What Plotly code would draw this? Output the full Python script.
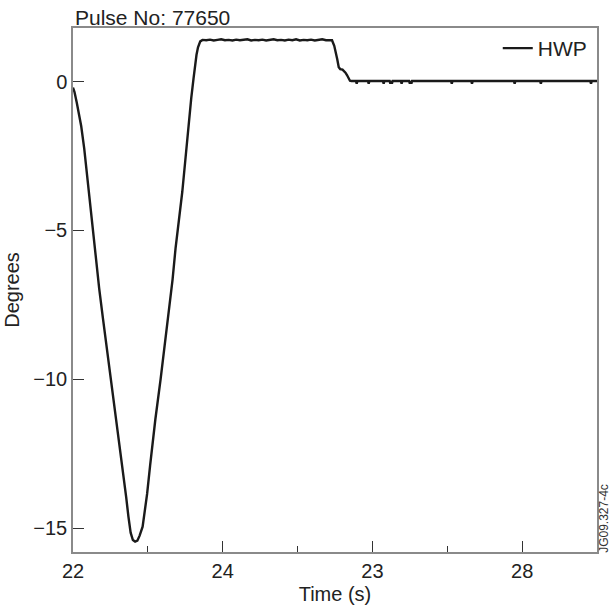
import plotly.graph_objects as go

# ---- data ----
time_s = [
    22.00, 22.02, 22.05, 22.08, 22.11, 22.15, 22.18, 22.22, 22.26, 22.31,
    22.35, 22.40, 22.45, 22.51, 22.56, 22.62, 22.67, 22.71, 22.74, 22.77,
    22.80, 22.83, 22.86, 22.89, 22.93, 22.96, 22.99, 23.03, 23.06, 23.10,
    23.17, 23.22, 23.28, 23.33, 23.37, 23.42, 23.46, 23.50, 23.54, 23.58,
    23.61, 23.63, 23.65, 23.67, 23.70, 23.73,
    23.78, 23.83, 23.88, 23.93, 23.98, 24.03, 24.08, 24.13, 24.18, 24.23,
    24.28, 24.33, 24.38, 24.43, 24.48, 24.53, 24.58, 24.63, 24.68, 24.73,
    24.78, 24.83, 24.88, 24.93, 24.98, 25.03, 25.08, 25.13, 25.18, 25.23,
    25.28, 25.33, 25.38, 25.43, 25.46,
    25.49, 25.51, 25.53, 25.55, 25.57, 25.60, 25.62, 25.64, 25.66, 25.68,
    25.70, 25.72,
    25.78, 25.79, 25.80, 25.94, 25.95, 25.96, 26.14, 26.15, 26.16,
    26.23, 26.24, 26.25, 26.26, 26.27, 26.38, 26.39, 26.40,
    26.49, 26.50, 26.51, 26.52, 26.53, 27.05, 27.06, 27.07,
    27.32, 27.33, 27.34, 27.89, 27.90, 27.91, 28.24, 28.25, 28.26,
    28.91, 28.92, 28.93, 29.00,
]
degrees = [
    -0.20, -0.35, -0.70, -1.05, -1.50, -2.25, -2.95, -3.95, -4.97, -6.10,
    -6.95, -7.95, -8.90, -10.05, -11.10, -12.25, -13.20, -13.95, -14.60, -15.15,
    -15.40, -15.45, -15.42, -15.25, -14.95, -14.40, -13.85, -12.90, -12.20, -11.35,
    -10.00, -8.95, -7.80, -6.65, -5.60, -4.55, -3.70, -2.65, -1.50, -0.55,
    0.10, 0.55, 0.90, 1.15, 1.35, 1.40,
    1.39, 1.41, 1.38, 1.40, 1.42, 1.39, 1.40, 1.38, 1.41, 1.39,
    1.40, 1.42, 1.38, 1.40, 1.39, 1.41, 1.38, 1.40, 1.42, 1.39,
    1.40, 1.38, 1.41, 1.39, 1.42, 1.38, 1.40, 1.39, 1.41, 1.38,
    1.40, 1.42, 1.39, 1.40, 1.39,
    1.20, 1.00, 0.75, 0.48, 0.42, 0.40, 0.36, 0.30, 0.22, 0.10,
    0.03, 0.02,
    0.02, -0.07, 0.02, 0.02, -0.07, 0.02, 0.02, -0.07, 0.02,
    0.02, -0.07, 0.02, -0.07, 0.02, 0.02, -0.07, 0.02,
    0.02, -0.07, 0.02, -0.07, 0.02, 0.02, -0.07, 0.02,
    0.02, -0.07, 0.02, 0.02, -0.07, 0.02, 0.02, -0.07, 0.02,
    0.02, -0.07, 0.02, 0.02,
]
x_tick_vals = [22, 24, 26, 28]
x_tick_text = ["22", "24", "23", "28"]
y_tick_vals = [0, -5, -10, -15]
y_tick_text = ["0", "\u22125", "\u221210", "\u221215"]

FONT = "Liberation Sans, Arial, Helvetica, sans-serif"
AXIS_GREY = "#8a8a8a"

fig = go.Figure()
fig.add_trace(go.Scatter(
    x=time_s, y=degrees, mode="lines", name="HWP",
    line=dict(color="#1a1a1a", width=2.4),
))

fig.update_layout(
    width=610, height=613,
    margin=dict(l=70, r=11, t=28, b=57),
    paper_bgcolor="white", plot_bgcolor="white",
    font=dict(family=FONT, size=20, color="#222222"),
    showlegend=True,
    legend=dict(x=0.99, xanchor="right", y=1.0, yanchor="top",
                bgcolor="rgba(0,0,0,0)", borderwidth=0,
                font=dict(size=21)),
    annotations=[
        dict(text="Pulse No: 77650", xref="paper", yref="paper",
             x=0.0, y=1.0, xanchor="left", yanchor="bottom",
             showarrow=False, font=dict(size=21, family=FONT), yshift=-3),
        dict(text="JG09.327-4c", xref="paper", yref="paper",
             x=1.0132, y=0.065, xanchor="center", yanchor="middle",
             textangle=-90, showarrow=False,
             font=dict(size=12, family=FONT, color="#333333")),
    ],
)
fig.update_xaxes(
    range=[22, 29], showgrid=False, zeroline=False,
    showline=True, linecolor=AXIS_GREY, linewidth=1.5, mirror=True,
    tickmode="array", tickvals=x_tick_vals, ticktext=x_tick_text,
    ticks="inside", ticklen=11, tickcolor="#333333", tickwidth=1,
    minor=dict(ticks="inside", ticklen=6, dtick=1, tick0=22,
               tickcolor="#333333", tickwidth=1),
    title=dict(text="Time (s)", standoff=6, font=dict(size=20)),
    tickfont=dict(size=20),
)
fig.update_yaxes(
    range=[-15.8, 1.8], showgrid=False, zeroline=False,
    showline=True, linecolor=AXIS_GREY, linewidth=1.5, mirror=True,
    tickmode="array", tickvals=y_tick_vals, ticktext=y_tick_text,
    ticks="inside", ticklen=11, tickcolor="#333333", tickwidth=1,
    title=dict(text="Degrees", standoff=8, font=dict(size=20)),
    tickfont=dict(size=20),
)

fig.write_html("out.html")
